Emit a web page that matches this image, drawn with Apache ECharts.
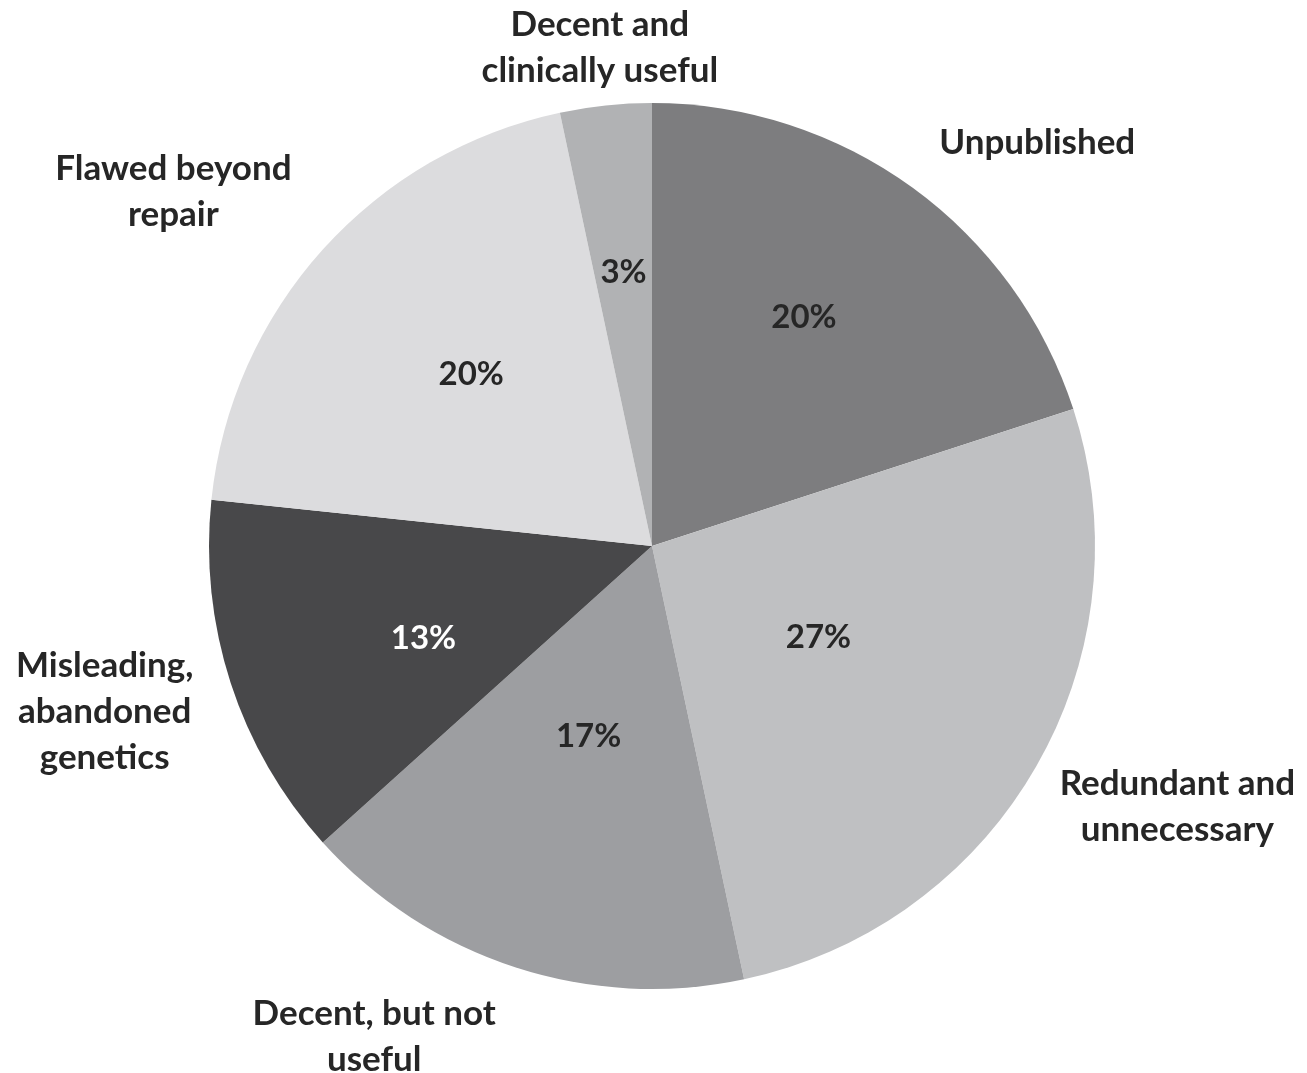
<!DOCTYPE html>
<html>
<head>
<meta charset="utf-8">
<script src="https://cdn.jsdelivr.net/npm/echarts@6/dist/echarts.min.js"></script>
<style>
html,body{margin:0;padding:0;background:#fff;}
#chart{width:1307px;height:1073px;}
</style>
</head>
<body>
<div id="chart"></div>
<script>
const categories = ["Unpublished", "Redundant and\nunnecessary", "Decent, but not\nuseful", "Misleading,\nabandoned\ngenetics", "Flawed beyond\nrepair", "Decent and\nclinically useful"];
const counts = [6, 8, 5, 4, 6, 1];
const percentLabels = ["20%", "27%", "17%", "13%", "20%", "3%"];

// styling / layout (kept separate from the data)
const colors = ["#7d7d7f", "#bfc0c2", "#9d9ea1", "#48484a", "#dcdcde", "#b1b2b4"];
const pctColors = ["#262626", "#262626", "#262626", "#ffffff", "#262626", "#262626"];
const pctNudge = [[20, -47], [-28, -21], [6, -23], [-15, 23], [-14, -21], [-5, -50]];
const nameNudge = [[47, 62], [27, -27], [-100, -57], [0, -12], [-51, 31], [8, 74]];

const chart = echarts.init(document.getElementById('chart'));
const center = [652, 546];
const fontFamily = 'Lato, "Open Sans", sans-serif';

chart.setOption({
  animation: false,
  series: [
    {
      type: 'pie',
      center: center,
      radius: [0, 443],
      startAngle: 90,
      clockwise: true,
      silent: true,
      label: {
        show: true,
        position: 'inside',
        fontFamily: fontFamily,
        fontWeight: 'bold',
        fontSize: 33,
        formatter: p => percentLabels[p.dataIndex]
      },
      labelLine: {show: false},
      data: categories.map((c, i) => ({
        name: c, value: counts[i],
        itemStyle: {color: colors[i]},
        label: {color: pctColors[i], offset: pctNudge[i]}
      }))
    },
    {
      type: 'pie',
      center: center,
      radius: [545, 600],
      startAngle: 90,
      clockwise: true,
      silent: true,
      itemStyle: {color: 'rgba(0,0,0,0)'},
      label: {
        show: true,
        position: 'inside',
        fontFamily: fontFamily,
        fontWeight: 'bold',
        fontSize: 35,
        lineHeight: 46,
        color: '#262626',
        align: 'center',
        formatter: p => p.name
      },
      labelLine: {show: false},
      data: categories.map((c, i) => ({name: c, value: counts[i], label: {offset: nameNudge[i]}}))
    }
  ]
});
</script>
</body>
</html>
